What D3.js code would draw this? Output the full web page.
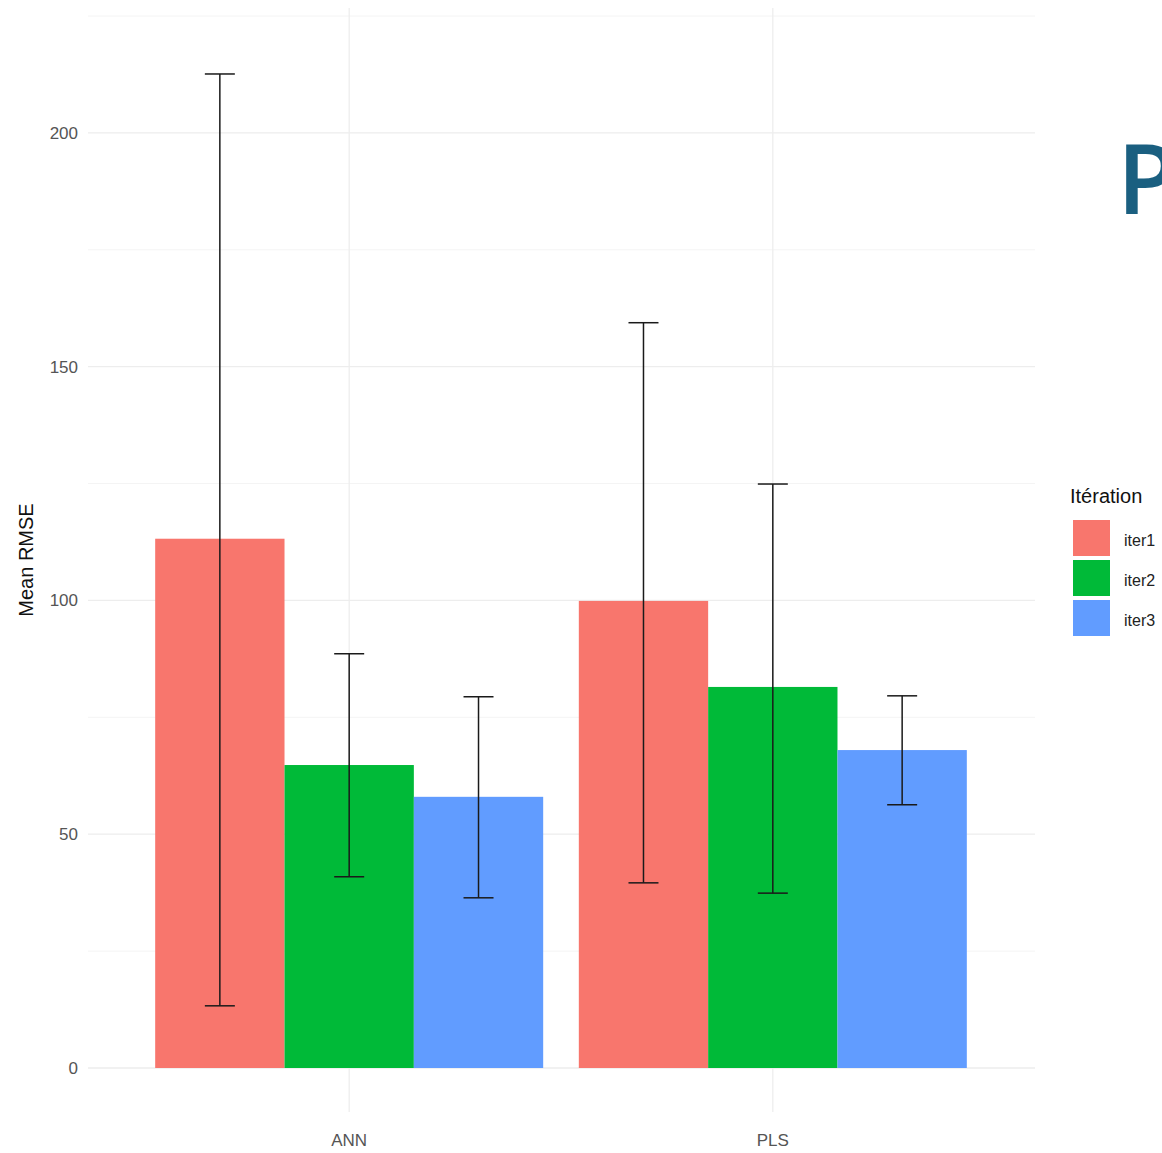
<!DOCTYPE html>
<html><head><meta charset="utf-8">
<script src="https://cdn.jsdelivr.net/npm/d3@7"></script>
<style>body{margin:0;background:#fff;}svg{display:block;}</style>
</head><body>
<script>
const categories = ["ANN", "PLS"];
const iterations = ["iter1", "iter2", "iter3"];
const meanRMSE = {ANN: [113.2, 64.8, 58.0], PLS: [99.9, 81.5, 68.0]};
const errLow  = {ANN: [13.3, 40.9, 36.4], PLS: [39.6, 37.4, 56.3]};
const errHigh = {ANN: [212.6, 88.6, 79.4], PLS: [159.4, 124.9, 79.6]};
const yTicks = [0, 50, 100, 150, 200];
const colors = ["#F8766D", "#00BA38", "#619CFF"];

const W = 1162, H = 1153;
const svg = d3.select("body").append("svg").attr("width", W).attr("height", H);
const pLeft = 95, pRight = 1027, pTop = 16, pBottom = 1068;

const y = d3.scaleLinear().domain([0, 225]).range([pBottom, pTop]);
const x = d3.scalePoint().domain(categories).range([pLeft, pRight]).padding(0.6);
const groupW = 388;
const sub = d3.scaleBand().domain(iterations).range([-groupW/2, groupW/2]);

// grid
const g = svg.append("g");
const minor = [25, 75, 125, 175, 225];
g.selectAll(".minor").data(minor).enter().append("line")
  .attr("x1", 88).attr("x2", 1035).attr("y1", d => y(d)).attr("y2", d => y(d))
  .attr("stroke", "#f4f4f4").attr("stroke-width", 1);
g.selectAll(".major").data(yTicks).enter().append("line")
  .attr("x1", 88).attr("x2", 1035).attr("y1", d => y(d)).attr("y2", d => y(d))
  .attr("stroke", "#ededed").attr("stroke-width", 1.3);
g.selectAll(".vx").data(categories).enter().append("line")
  .attr("x1", d => x(d)).attr("x2", d => x(d)).attr("y1", 8).attr("y2", 1112)
  .attr("stroke", "#ededed").attr("stroke-width", 1.3);

// bars
const rows = [];
categories.forEach(c => iterations.forEach((it, i) => rows.push({c, it, i, v: meanRMSE[c][i], lo: errLow[c][i], hi: errHigh[c][i]})));
svg.selectAll(".bar").data(rows).enter().append("rect")
  .attr("x", d => x(d.c) + sub(d.it))
  .attr("width", sub.bandwidth())
  .attr("y", d => y(d.v))
  .attr("height", d => y(0) - y(d.v))
  .attr("fill", d => colors[d.i]);

// error bars
const eb = svg.selectAll(".eb").data(rows).enter().append("g")
  .attr("stroke", "#1a1a1a").attr("stroke-width", 1.5);
const cx = d => x(d.c) + sub(d.it) + sub.bandwidth()/2;
eb.append("line").attr("x1", cx).attr("x2", cx).attr("y1", d => y(d.hi)).attr("y2", d => y(d.lo));
eb.append("line").attr("x1", d => cx(d) - 15).attr("x2", d => cx(d) + 15).attr("y1", d => y(d.hi)).attr("y2", d => y(d.hi));
eb.append("line").attr("x1", d => cx(d) - 15).attr("x2", d => cx(d) + 15).attr("y1", d => y(d.lo)).attr("y2", d => y(d.lo));

// y axis labels
svg.selectAll(".yt").data(yTicks).enter().append("text")
  .attr("x", 78).attr("y", d => y(d)).attr("dy", "0.35em")
  .attr("text-anchor", "end").attr("font-family", "Liberation Sans, Arial, sans-serif")
  .attr("font-size", 17).attr("fill", "#555").text(d => d);
// x axis labels
svg.selectAll(".xt").data(categories).enter().append("text")
  .attr("x", d => x(d)).attr("y", 1146)
  .attr("text-anchor", "middle").attr("font-family", "Liberation Sans, Arial, sans-serif")
  .attr("font-size", 17).attr("fill", "#555").text(d => d);
// y title
svg.append("text").attr("transform", "translate(33,560) rotate(-90)")
  .attr("text-anchor", "middle").attr("font-family", "Liberation Sans, Arial, sans-serif")
  .attr("font-size", 20).attr("fill", "#111").text("Mean RMSE");

// legend
const lg = svg.append("g");
lg.append("text").attr("x", 1070).attr("y", 503).attr("font-family", "Liberation Sans, Arial, sans-serif")
  .attr("font-size", 20).attr("fill", "#111").text("Itération");
iterations.forEach((it, i) => {
  lg.append("rect").attr("x", 1073).attr("y", 520 + i*40).attr("width", 37).attr("height", 36).attr("fill", colors[i]);
  lg.append("text").attr("x", 1124).attr("y", 540 + i*40).attr("dy", "0.35em")
    .attr("font-family", "Liberation Sans, Arial, sans-serif").attr("font-size", 16).attr("fill", "#222").text(it);
});

// slide artifact letter (cut off by the right edge, as in the reference)
svg.append("text").attr("x", 1117).attr("y", 214).attr("font-family", "Open Sans, sans-serif")
  .attr("font-size", 98).attr("font-weight", 600).attr("fill", "#1a5f80").text("P");
</script>
</body></html>
